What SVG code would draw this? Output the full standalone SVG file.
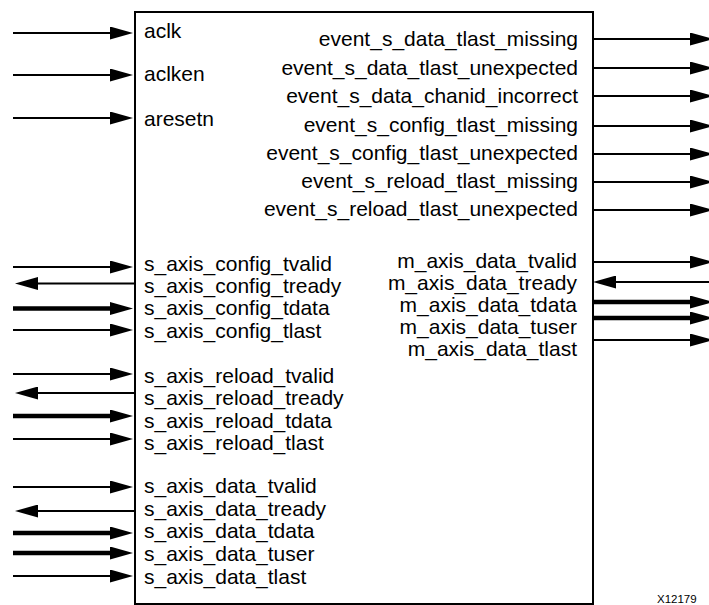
<svg xmlns="http://www.w3.org/2000/svg" width="709" height="605" viewBox="0 0 709 605">
  <style>
    .lbl { font-family: "Liberation Sans", Arial, sans-serif; font-size: 21px; fill: #000; }
    .r { text-anchor: end; }
    .w { stroke: #000; stroke-width: 2.2; fill: none; marker-end: url(#head); }
    .bus { stroke: #000; stroke-width: 4.6; fill: none; marker-end: url(#head); }
    .box { fill: #fff; stroke: #000; stroke-width: 2; }
    .tag { font-family: "Liberation Sans", Arial, sans-serif; font-size: 11.5px; fill: #000; }
  </style>
  <defs>
    <marker id="head" markerUnits="userSpaceOnUse" markerWidth="24" markerHeight="13" refX="0" refY="6.5" orient="auto" viewBox="0 0 24 13">
      <path d="M0,0 L23,6.5 L0,13 Z" fill="#000"/>
    </marker>
  </defs>

  <g id="block">
    <rect class="box" x="135" y="12" width="458" height="592"/>
  </g>

  <g id="connectors">
    <!-- clock / reset inputs -->
    <path class="w" d="M13,33 H110"/>
    <path class="w" d="M13,75 H110"/>
    <path class="w" d="M13,118 H110"/>
    <!-- event outputs -->
    <path class="w" d="M593,39 H690"/>
    <path class="w" d="M593,68 H690"/>
    <path class="w" d="M593,96 H690"/>
    <path class="w" d="M593,126 H690"/>
    <path class="w" d="M593,154 H690"/>
    <path class="w" d="M593,182 H690"/>
    <path class="w" d="M593,210 H690"/>
    <!-- s_axis_config -->
    <path class="w" d="M13,267 H110"/>
    <path class="w" d="M135,283.5 H38"/>
    <path class="bus" d="M13,308.5 H110"/>
    <path class="w" d="M13,330 H110"/>
    <!-- s_axis_reload -->
    <path class="w" d="M13,374 H110"/>
    <path class="w" d="M135,393 H38"/>
    <path class="bus" d="M13,416 H110"/>
    <path class="w" d="M13,439 H110"/>
    <!-- s_axis_data -->
    <path class="w" d="M13,487 H110"/>
    <path class="w" d="M135,511 H38"/>
    <path class="bus" d="M13,533 H110"/>
    <path class="bus" d="M13,553 H110"/>
    <path class="w" d="M13,576 H110"/>
    <!-- m_axis_data -->
    <path class="w" d="M593,262 H690"/>
    <path class="w" d="M709,282 H616"/>
    <path class="bus" d="M593,302 H690"/>
    <path class="bus" d="M593,318 H690"/>
    <path class="w" d="M593,340 H690"/>
  </g>

  <g id="ports-left">
    <text class="lbl" x="144" y="38">aclk</text>
    <text class="lbl" x="144" y="81">aclken</text>
    <text class="lbl" x="144" y="126">aresetn</text>
    <text class="lbl" x="144" y="270.5">s_axis_config_tvalid</text>
    <text class="lbl" x="144" y="292.5">s_axis_config_tready</text>
    <text class="lbl" x="144" y="315">s_axis_config_tdata</text>
    <text class="lbl" x="144" y="337.5">s_axis_config_tlast</text>
    <text class="lbl" x="144" y="383">s_axis_reload_tvalid</text>
    <text class="lbl" x="144" y="405">s_axis_reload_tready</text>
    <text class="lbl" x="144" y="428">s_axis_reload_tdata</text>
    <text class="lbl" x="144" y="450">s_axis_reload_tlast</text>
    <text class="lbl" x="144" y="493">s_axis_data_tvalid</text>
    <text class="lbl" x="144" y="516">s_axis_data_tready</text>
    <text class="lbl" x="144" y="538">s_axis_data_tdata</text>
    <text class="lbl" x="144" y="561">s_axis_data_tuser</text>
    <text class="lbl" x="144" y="584">s_axis_data_tlast</text>
  </g>

  <g id="ports-right">
    <text class="lbl r" x="578" y="46">event_s_data_tlast_missing</text>
    <text class="lbl r" x="578" y="75">event_s_data_tlast_unexpected</text>
    <text class="lbl r" x="578" y="103">event_s_data_chanid_incorrect</text>
    <text class="lbl r" x="578" y="132">event_s_config_tlast_missing</text>
    <text class="lbl r" x="578" y="160">event_s_config_tlast_unexpected</text>
    <text class="lbl r" x="578" y="188">event_s_reload_tlast_missing</text>
    <text class="lbl r" x="578" y="216">event_s_reload_tlast_unexpected</text>
    <text class="lbl r" x="577" y="268">m_axis_data_tvalid</text>
    <text class="lbl r" x="577" y="290">m_axis_data_tready</text>
    <text class="lbl r" x="577" y="312">m_axis_data_tdata</text>
    <text class="lbl r" x="577" y="334">m_axis_data_tuser</text>
    <text class="lbl r" x="577" y="355.5">m_axis_data_tlast</text>
  </g>

  <text class="tag" x="657" y="603">X12179</text>
</svg>
